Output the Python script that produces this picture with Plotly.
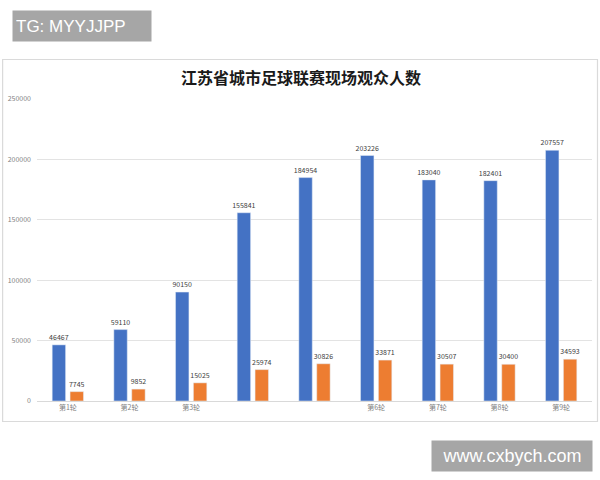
import plotly.graph_objects as go

rounds = ["第1轮", "第2轮", "第3轮", "第4轮", "第5轮", "第6轮", "第7轮", "第8轮", "第9轮"]
tick_labels = ["第1轮", "第2轮", "第3轮", "", "", "第6轮", "第7轮", "第8轮", "第9轮"]
series_a = [46467, 59110, 90150, 155841, 184954, 203226, 183040, 182401, 207557]
series_b = [7745, 9852, 15025, 25974, 30826, 33871, 30507, 30400, 34593]
y_ticks = [0, 50000, 100000, 150000, 200000, 250000]

title_text = "江苏省城市足球联赛现场观众人数"
wm_top = "TG: MYYJJPP"
wm_bottom = "www.cxbych.com"

# plot area in pixels
L, R, T, B = 35, 8, 99, 79
W, H = 600, 480
pw = W - L - R
ph = H - T - B

def px(x):
    return (x - L) / pw

def py(y):
    return (H - B - y) / ph

fig = go.Figure()
for vals, col in [(series_a, "#4472C4"), (series_b, "#ED7D31")]:
    fig.add_trace(go.Bar(x=rounds, y=vals, marker_color=col,
                         text=[str(v) for v in vals], textposition="outside",
                         constraintext="none",
                         textfont=dict(size=7, color="#404040"), cliponaxis=False))

fig.update_layout(
    width=W, height=H,
    margin=dict(l=L, r=R, t=T, b=B),
    paper_bgcolor="white", plot_bgcolor="white",
    showlegend=False,
    barmode="group", bargap=0.42, bargroupgap=0.25,
    font=dict(family="Noto Sans CJK SC, Liberation Sans, sans-serif"),
    xaxis=dict(tickmode="array", tickvals=rounds, ticktext=tick_labels,
               tickfont=dict(size=7, color="#7f7f7f"), showgrid=False,
               showline=True, linecolor="#d9d9d9", linewidth=1, ticks=""),
    yaxis=dict(range=[0, 250000], tickvals=y_ticks, ticktext=[str(v) for v in y_ticks],
               tickfont=dict(size=7, color="#7f7f7f"), showgrid=True,
               gridcolor="#e3e3e3", gridwidth=1, zeroline=False, ticks="",
               ticklabelstandoff=5),
    shapes=[dict(type="rect", xref="paper", yref="paper",
                 x0=px(0.5), x1=px(597.5), y0=py(421.5), y1=py(59.5),
                 line=dict(color="#dadada", width=1.2), fillcolor="rgba(0,0,0,0)",
                 layer="below")],
    annotations=[
        dict(text="<b>" + title_text + "</b>", xref="paper", yref="paper",
             x=px(300), y=py(77), showarrow=False, xanchor="center", yanchor="middle",
             font=dict(size=16, color="#1a1a1a", family="Noto Sans CJK SC")),
        dict(text=wm_top, xref="paper", yref="paper", x=px(10), y=py(10),
             xanchor="left", yanchor="top", showarrow=False,
             bgcolor="#a6a6a6", width=132, height=24, borderpad=3, align="left",
             font=dict(size=17, color="white", family="Liberation Sans, Arial")),
        dict(text=wm_bottom, xref="paper", yref="paper", x=px(430), y=py(440),
             xanchor="left", yanchor="top", showarrow=False,
             bgcolor="#a6a6a6", width=154, height=24, borderpad=3, align="center",
             font=dict(size=18, color="white", family="Liberation Sans, Arial")),
    ],
)

fig.write_html("out.html")
